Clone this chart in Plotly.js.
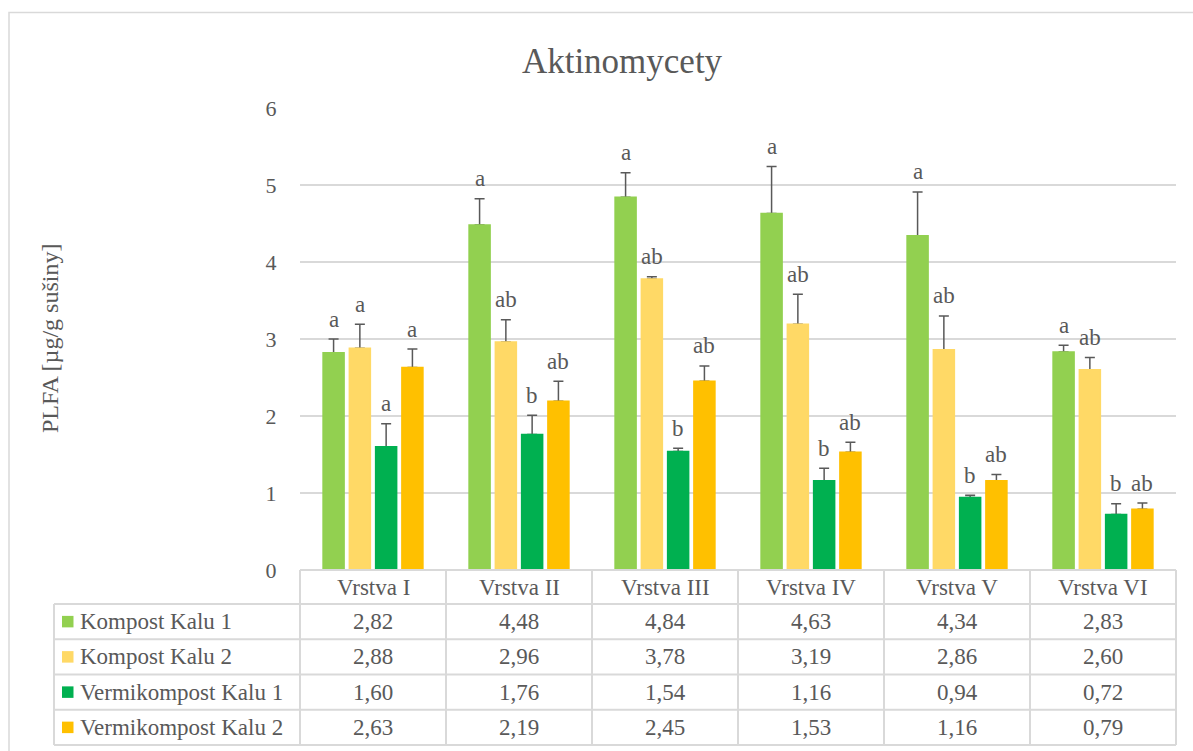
<!DOCTYPE html>
<html><head><meta charset="utf-8">
<script src="https://cdn.plot.ly/plotly-3.0.1.min.js"></script>
<style>html,body{margin:0;padding:0;background:#fff}</style>
</head><body><div id="chart" style="width:1193px;height:751px"></div>
<script>
// ---- data ----
const categories = ['Vrstva I','Vrstva II','Vrstva III','Vrstva IV','Vrstva V','Vrstva VI'];
const seriesNames = ['Kompost Kalu 1','Kompost Kalu 2','Vermikompost Kalu 1','Vermikompost Kalu 2'];
const kompost1 = [2.82,4.48,4.84,4.63,4.34,2.83];
const kompost2 = [2.88,2.96,3.78,3.19,2.86,2.60];
const vermi1   = [1.60,1.76,1.54,1.16,0.94,0.72];
const vermi2   = [2.63,2.19,2.45,1.53,1.16,0.79];
const kompost1Err = [0.18,0.34,0.32,0.61,0.57,0.09];
const kompost2Err = [0.31,0.29,0.03,0.39,0.44,0.16];
const vermi1Err   = [0.30,0.25,0.04,0.16,0.03,0.14];
const vermi2Err   = [0.24,0.26,0.20,0.13,0.08,0.08];
const kompost1Letters = ['a','a','a','a','a','a'];
const kompost2Letters = ['a','ab','ab','ab','ab','ab'];
const vermi1Letters   = ['a','b','b','b','b','b'];
const vermi2Letters   = ['a','ab','ab','ab','ab','ab'];
const yTicks = [0,1,2,3,4,5,6];

// ---- styling / layout ----
const colors = ['#92D050','#FFD966','#00B050','#FFC000'];
const values = [kompost1,kompost2,vermi1,vermi2];
const errors = [kompost1Err,kompost2Err,vermi1Err,vermi2Err];
const letters = [kompost1Letters,kompost2Letters,vermi1Letters,vermi2Letters];

const W = 1193, H = 751;
const mL = 300, mR = 17, mT = 108, mB = 181;
const plotW = W - mL - mR, plotH = H - mT - mB;
const bargap = 0.28, bargroupgap = 0.2;
const txt = '#595959';
const border = '#d9d9d9';
const fontFam = 'Liberation Serif';

const px2x = p => (p - mL) / plotW;
const py2y = p => (H - mB - p) / plotH;

const traces = [];
// bars with error bars (underneath)
values.forEach((v, j) => {
  traces.push({
    type: 'bar', x: categories, y: v, name: seriesNames[j],
    offsetgroup: 'g' + j, marker: {color: colors[j]},
    error_y: {type: 'data', symmetric: false, array: errors[j], arrayminus: errors[j].map(() => 0),
              color: '#595959', thickness: 1.5, width: 5},
    hoverinfo: 'skip', showlegend: false
  });
});
// same bars on top to hide the lower caps
values.forEach((v, j) => {
  traces.push({
    type: 'bar', x: categories, y: v, name: seriesNames[j],
    offsetgroup: 'g' + j, marker: {color: colors[j], line: {color: colors[j], width: 1.5}},
    hovertemplate: seriesNames[j] + ': %{y:.2f}<extra></extra>', showlegend: false
  });
});

const annotations = [];
const shapes = [];
const nCat = categories.length;
const catPx = plotW / nCat;
const slotPx = catPx * (1 - bargap) / values.length;

// significance letters
values.forEach((v, j) => {
  v.forEach((val, i) => {
    annotations.push({
      xref: 'x', yref: 'y', x: categories[i], y: val + errors[j][i],
      xshift: (j - (values.length - 1) / 2) * slotPx, yshift: 20,
      yanchor: 'middle', xanchor: 'center', showarrow: false,
      text: letters[j][i], font: {family: fontFam, size: 23, color: txt}
    });
  });
});

// y-axis title
annotations.push({
  xref: 'paper', yref: 'paper', x: px2x(50), y: 0.5, textangle: -90,
  showarrow: false, xanchor: 'center', yanchor: 'middle',
  text: 'PLFA [µg/g sušiny]', font: {family: fontFam, size: 24, color: txt}
});

// data table
const tableTop = H - mB;           // 570
const headerH = 34, rowH = 35.25;
const tableLeftPx = 54;
const rowTops = [tableTop + headerH];
for (let r = 1; r <= seriesNames.length; r++) rowTops.push(tableTop + headerH + r * rowH);
const line = {color: border, width: 2};

shapes.push({type: 'line', xref: 'paper', yref: 'paper', x0: 0, x1: 1, y0: py2y(tableTop), y1: py2y(tableTop), line});
rowTops.forEach(t => shapes.push({type: 'line', xref: 'paper', yref: 'paper', x0: px2x(tableLeftPx), x1: 1, y0: py2y(t), y1: py2y(t), line}));
for (let i = 0; i <= nCat; i++) {
  shapes.push({type: 'line', xref: 'paper', yref: 'paper', x0: i / nCat, x1: i / nCat,
               y0: py2y(tableTop), y1: py2y(rowTops[rowTops.length - 1]), line});
}
shapes.push({type: 'line', xref: 'paper', yref: 'paper', x0: px2x(tableLeftPx), x1: px2x(tableLeftPx),
             y0: py2y(rowTops[0]), y1: py2y(rowTops[rowTops.length - 1]), line});

categories.forEach((c, i) => annotations.push({
  xref: 'paper', yref: 'paper', x: (i + 0.5) / nCat, y: py2y(tableTop + headerH / 2),
  showarrow: false, xanchor: 'center', yanchor: 'middle', text: c,
  font: {family: fontFam, size: 23, color: txt}
}));
seriesNames.forEach((s, j) => {
  const cy = rowTops[j] + rowH / 2;
  shapes.push({type: 'rect', xref: 'paper', yref: 'paper', x0: px2x(62), x1: px2x(73.5),
               y0: py2y(cy - 5.75), y1: py2y(cy + 5.75), fillcolor: colors[j], line: {width: 0}});
  annotations.push({xref: 'paper', yref: 'paper', x: px2x(78), y: py2y(cy), showarrow: false,
                    xanchor: 'left', yanchor: 'middle', text: s, font: {family: fontFam, size: 23, color: txt}});
  values[j].forEach((val, i) => annotations.push({
    xref: 'paper', yref: 'paper', x: (i + 0.5) / nCat, y: py2y(cy), showarrow: false,
    xanchor: 'center', yanchor: 'middle', text: val.toFixed(2).replace('.', ','),
    font: {family: fontFam, size: 23, color: txt}
  }));
});

shapes.push({type: 'rect', xref: 'paper', yref: 'paper', x0: px2x(9), x1: px2x(1205),
             y0: py2y(770), y1: py2y(12.5), line: {color: border, width: 1.5}, fillcolor: 'rgba(0,0,0,0)'});

const layout = {
  width: W, height: H,
  margin: {l: mL, r: mR, t: mT, b: mB},
  paper_bgcolor: '#fff', plot_bgcolor: '#fff',
  barmode: 'group', bargap: bargap, bargroupgap: bargroupgap,
  showlegend: false,
  title: {text: 'Aktinomycety', x: 622 / W, xref: 'container', xanchor: 'center',
          y: 1 - 61 / H, yref: 'container', yanchor: 'middle',
          font: {family: fontFam, size: 35, color: txt}},
  xaxis: {type: 'category', range: [-0.5, nCat - 0.5], showticklabels: false, showgrid: false,
          zeroline: false, showline: false, ticks: '', fixedrange: true},
  yaxis: {range: [0, 6], tickvals: yTicks, ticktext: yTicks.map(String), showgrid: true,
          gridcolor: border, gridwidth: 1.5, zeroline: false, showline: false,
          ticks: 'outside', ticklen: 18, tickcolor: 'rgba(0,0,0,0)',
          tickfont: {family: fontFam, size: 22, color: txt}, fixedrange: true},
  annotations: annotations, shapes: shapes,
  font: {family: fontFam, color: txt}
};

Plotly.newPlot('chart', traces, layout, {displayModeBar: false, staticPlot: true});
</script>
</body></html>
